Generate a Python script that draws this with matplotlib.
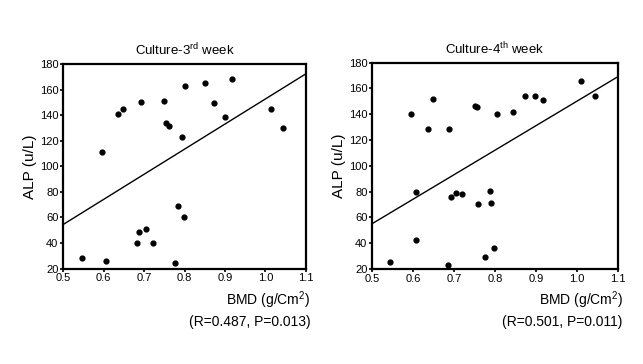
import numpy as np
import matplotlib
matplotlib.use("Agg")
import matplotlib.pyplot as plt

plt.rcParams['font.family'] = ['Liberation Sans', 'DejaVu Sans']

# Culture - 3rd week
bmd_w3 = [0.547, 0.605, 0.595, 0.635, 0.648, 0.691, 0.682, 0.688, 0.704, 0.723,
          0.750, 0.755, 0.761, 0.776, 0.785, 0.798, 0.793, 0.801, 0.850, 0.872,
          0.900, 0.917, 1.013, 1.044]
alp_w3 = [28.6, 26.0, 111.4, 140.6, 144.7, 150.7, 40.0, 48.4, 51.0, 39.8,
          151.5, 133.8, 131.2, 24.2, 69.2, 60.4, 122.9, 162.7, 165.0, 149.4,
          138.5, 168.4, 144.7, 130.2]
fit_w3 = [54.6, 172.3]

# Culture - 4th week
bmd_w4 = [0.544, 0.606, 0.606, 0.595, 0.635, 0.648, 0.685, 0.688, 0.692, 0.705,
          0.720, 0.750, 0.756, 0.757, 0.776, 0.787, 0.789, 0.797, 0.805, 0.844,
          0.872, 0.897, 0.917, 1.011, 1.044]
alp_w4 = [25.7, 42.5, 80.0, 140.5, 128.3, 151.6, 23.4, 128.8, 76.2, 79.0,
          78.4, 146.4, 145.8, 70.7, 29.6, 80.2, 71.2, 36.5, 140.2, 141.5,
          154.4, 154.4, 151.0, 165.5, 153.9]
fit_w4 = [55.2, 169.1]

fit_x = [0.5, 1.1]
xticks = [0.5, 0.6, 0.7, 0.8, 0.9, 1.0, 1.1]
xticklabels = ['0.5', '0.6', '0.7', '0.8', '0.9', '1.0', '1.1']
yticks = [20, 40, 60, 80, 100, 120, 140, 160, 180]

titles = ['Culture-3$^{\\mathregular{rd}}$ week', 'Culture-4$^{\\mathregular{th}}$ week']
stats = ['(R=0.487, P=0.013)', '(R=0.501, P=0.011)']

fig = plt.figure(figsize=(6.43, 3.64), dpi=100)
ax1 = fig.add_axes([0.0985, 0.262, 0.377, 0.562])
ax2 = fig.add_axes([0.579, 0.261, 0.382, 0.567])

panels = [(ax1, bmd_w3, alp_w3, fit_w3), (ax2, bmd_w4, alp_w4, fit_w4)]
for i, (ax, x, y, fit) in enumerate(panels):
    ax.scatter(x, y, s=12, color='black', zorder=3)
    ax.plot(fit_x, fit, color='black', lw=1.0)
    ax.set_xlim(0.5, 1.1)
    ax.set_ylim(20, 180)
    ax.set_xticks(xticks)
    ax.set_xticklabels(xticklabels)
    ax.set_yticks(yticks)
    ax.tick_params(direction='out', length=2, width=1.2, labelsize=8, pad=1.5)
    for s in ax.spines.values():
        s.set_linewidth(1.6)
    ax.set_title(titles[i], fontsize=9.5, pad=6)
    ax.set_ylabel('ALP (u/L)', fontsize=11, labelpad=2)
    ax.text(1.02, -0.1, 'BMD (g/Cm$^{\\mathregular{2}}$)', transform=ax.transAxes,
            ha='right', va='top', fontsize=10)
    ax.text(1.02, -0.225, stats[i], transform=ax.transAxes,
            ha='right', va='top', fontsize=10)

fig.savefig('out.png', dpi=100)
